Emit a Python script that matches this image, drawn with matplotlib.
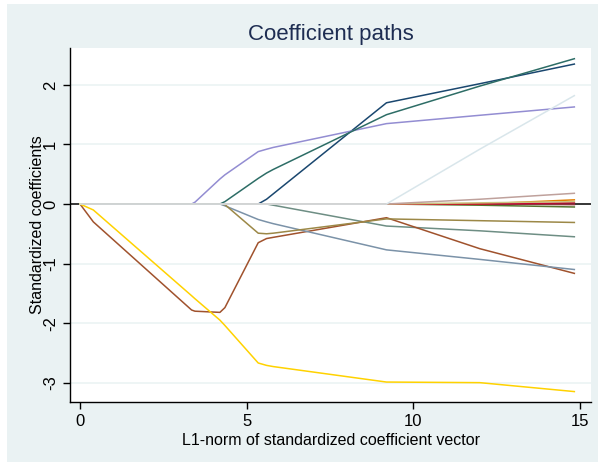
import matplotlib
matplotlib.use('Agg')
import matplotlib.pyplot as plt
from matplotlib.patches import Rectangle

plt.rcParams['font.family'] = ['Liberation Sans', 'DejaVu Sans']

# L1-norm knots shared by every coefficient path
l1norm = [0.0, 0.4, 3.35, 3.45, 4.2, 4.35, 5.35, 5.6, 5.8, 9.2, 12.0, 14.84]

# standardized coefficients at each knot
navy = [0, 0, 0, 0, 0, 0, 0, 0.08, 0.17, 1.70, 2.02, 2.35]
maroon = [0, 0, 0, 0, 0, 0, 0, 0, 0, 0, 0, -0.01]
forest_green = [0, 0, 0, 0, 0, 0, 0, 0, 0, 0, -0.02, -0.05]
dkorange = [0, 0, 0, 0, 0, 0, 0, 0, 0, 0, 0, 0.07]
teal = [0, 0, 0, 0, 0, 0, 0, 0, -0.02, -0.37, -0.45, -0.55]
cranberry = [0, 0, 0, 0, 0, 0, 0, 0, 0, 0, 0, 0.02]
lavender = [0, 0, 0, 0.03, 0.42, 0.49, 0.88, 0.92, 0.95, 1.35, 1.49, 1.63]
khaki = [0, 0, 0, 0, 0, 0, 0, 0, 0, 0, 0.02, 0.04]
sienna = [0, -0.30, -1.78, -1.80, -1.82, -1.74, -0.65, -0.58, -0.56, -0.23, -0.75, -1.165]
emidblue = [0, 0, 0, 0, 0, -0.03, -0.26, -0.30, -0.33, -0.77, -0.93, -1.10]
emerald = [0, 0, 0, 0, 0, 0.04, 0.43, 0.52, 0.58, 1.50, 1.98, 2.44]
brown = [0, 0, 0, 0, 0, -0.01, -0.49, -0.50, -0.49, -0.25, -0.28, -0.31]
erose = [0, 0, 0, 0, 0, 0, 0, 0, 0, 0, 0.08, 0.18]
gold = [0, -0.10, -1.54, -1.59, -1.95, -2.04, -2.67, -2.71, -2.73, -2.99, -3.00, -3.15]
bluishgray = [0, 0, 0, 0, 0, 0, 0, 0, 0, 0, 0.92, 1.82]

series = [
    (navy, '#1a476f'), (maroon, '#90353b'), (forest_green, '#55752f'),
    (dkorange, '#e37e00'), (teal, '#6e8e84'), (cranberry, '#c10534'),
    (lavender, '#938dd2'), (khaki, '#cac27e'), (sienna, '#a0522d'),
    (emidblue, '#7b92a8'), (emerald, '#2d6d66'), (brown, '#9c8847'),
    (erose, '#bfa19c'), (gold, '#ffd200'), (bluishgray, '#d9e6eb'),
]

fig = plt.figure(figsize=(5.98, 4.62), dpi=100)
fig.patch.set_facecolor('white')
fig.patches.append(Rectangle((7 / 598, 0), 1, 1 - 4 / 462, transform=fig.transFigure,
                             facecolor='#eaf2f3', edgecolor='none', zorder=-10))

ax = fig.add_axes([70 / 598, 1 - 401.7 / 462, (591 - 70) / 598, (401.7 - 48) / 462])
ax.set_facecolor('white')

for vals, col in series:
    ax.plot(l1norm, vals, color=col, lw=1.1, zorder=3)

ax.axhline(0, color='black', lw=1.1, zorder=2)
for g in [-3, -2, -1, 1, 2]:
    ax.axhline(g, color='#eaf2f3', lw=1.1, zorder=1)

ax.set_xlim(-0.3, 15.34)
ax.set_ylim(-3.32, 2.62)
ax.set_xticks([0, 5, 10, 15])
ax.set_yticks([-3, -2, -1, 0, 1, 2])
ax.set_yticklabels(['-3', '-2', '-1', '0', '1', '2'], rotation=90, va='center')
ax.tick_params(labelsize=12, length=5, width=1, direction='out', colors='black')

for s in ['top', 'right']:
    ax.spines[s].set_visible(False)
for s in ['left', 'bottom']:
    ax.spines[s].set_linewidth(1)

ax.set_xlabel('L1-norm of standardized coefficient vector', fontsize=11.5, labelpad=3)
ax.set_ylabel('Standardized coefficients', fontsize=11.5, labelpad=-1)
ax.set_title('Coefficient paths', fontsize=16, color='#1e2d52', pad=6)

fig.savefig('out.png', dpi=100, facecolor=fig.get_facecolor())
